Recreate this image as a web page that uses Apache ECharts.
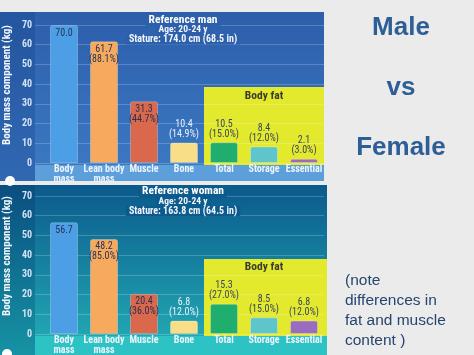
<!DOCTYPE html>
<html>
<head>
<meta charset="utf-8">
<script src="https://cdn.jsdelivr.net/npm/echarts@6/dist/echarts.min.js"></script>
<style>
html,body{margin:0;padding:0;background:#ebebeb;}
#c{width:474px;height:355px;}
</style>
</head>
<body>
<div id="c"></div>
<script>
// ---- data ----
const categories = ['Body\nmass', 'Lean body\nmass', 'Muscle', 'Bone', 'Total', 'Storage', 'Essential'];
const maleValues = [70.0, 61.7, 31.3, 10.4, 10.5, 8.4, 2.1];
const malePercents = ['', '88.1%', '44.7%', '14.9%', '15.0%', '12.0%', '3.0%'];
const femaleValues = [56.7, 48.2, 20.4, 6.8, 15.3, 8.5, 6.8];
const femalePercents = ['', '85.0%', '36.0%', '12.0%', '27.0%', '15.0%', '12.0%'];
const yMin = 0, yMax = 70, yStep = 10;
const maleTitle = ['Reference man', 'Age: 20-24 y', 'Stature: 174.0 cm (68.5 in)'];
const femaleTitle = ['Reference woman', 'Age: 20-24 y', 'Stature: 163.8 cm (64.5 in)'];

// ---- styles ----
const barColors = ['#4c9fe4', '#f7aa5e', '#d9684c', '#f9de88', '#1fae6e', '#5ec5cc', '#9a6cbf'];
const labelColors = ['#26345c', '#26345c', '#2b2f4f', '#e9f0fa', '#3a4660', '#3a4660', '#3a4660'];
const FONT = '"Roboto Condensed", "Liberation Sans", Arial, sans-serif';
const SANS = '"Liberation Sans", Arial, sans-serif';

const chart = echarts.init(document.getElementById('c'), null, {renderer: 'canvas'});

function barData(values) {
  return values.map((v, i) => ({
    value: v,
    itemStyle: {color: barColors[i]},
    label: {position: i < 3 ? 'insideTop' : 'top', color: labelColors[i]}
  }));
}
function fmt(percents) {
  return p => p.value.toFixed(1) + (percents[p.dataIndex] ? '\n(' + percents[p.dataIndex] + ')' : '');
}
function catAxis(grid) {
  return {
    type: 'category', gridIndex: grid, data: categories, z: 6,
    axisLine: {show: false}, axisTick: {show: false},
    axisLabel: {interval: 0, color: '#eef4fb', fontFamily: FONT, fontWeight: 'bold', fontSize: 10, lineHeight: 10, margin: 1}
  };
}
function valAxis(grid) {
  return {
    type: 'value', gridIndex: grid, min: yMin, max: yMax, interval: yStep, z: 6,
    axisLine: {show: false}, axisTick: {show: false}, splitLine: {show: false},
    axisLabel: {color: '#d3e2f4', fontFamily: FONT, fontWeight: 'bold', fontSize: 10, margin: 12}
  };
}
function gridAxisY(grid) {
  return {
    type: 'value', gridIndex: grid, min: yMin, max: yMax, interval: yStep, z: 3,
    axisLine: {show: false}, axisTick: {show: false}, axisLabel: {show: false},
    splitLine: {show: true, lineStyle: {color: 'rgba(255,255,255,0.2)', width: 1}}
  };
}
function grad(c1, c2) {
  return {type: 'linear', x: 0, y: 0, x2: 0, y2: 1, colorStops: [{offset: 0, color: c1}, {offset: 1, color: c2}]};
}
function titleTexts(lines, y0, bg) {
  return [
    {type: 'text', z: 4, x: 183, y: y0, style: {text: lines[0], fill: '#ffffff', font: 'bold 11.5px ' + FONT, align: 'center', verticalAlign: 'middle', backgroundColor: bg, padding: [0, 3]}},
    {type: 'text', z: 4, x: 183, y: y0 + 10, style: {text: lines[1], fill: '#f2f6fc', font: 'bold 9.5px ' + FONT, align: 'center', verticalAlign: 'middle', backgroundColor: bg, padding: [0, 3]}},
    {type: 'text', z: 4, x: 183, y: y0 + 19.5, style: {text: lines[2], fill: '#f2f6fc', font: 'bold 10px ' + FONT, align: 'center', verticalAlign: 'middle', backgroundColor: bg, padding: [0, 3]}}
  ];
}

const graphics = [
  // top panel
  {type: 'rect', z: 1, shape: {x: 0, y: 12, width: 35, height: 169}, style: {fill: grad('#24559f', '#3168b2')}},
  {type: 'rect', z: 1, shape: {x: 35, y: 12, width: 289, height: 153}, style: {fill: grad('#2c5eab', '#3b78c2')}},
  {type: 'rect', z: 1, shape: {x: 35, y: 165, width: 289, height: 16}, style: {fill: '#5c9fdb'}},
  {type: 'rect', z: 2, shape: {x: 204, y: 87, width: 120, height: 78}, style: {fill: '#e3e92c'}},
  {type: 'text', z: 4, x: 264, y: 96, style: {text: 'Body fat', fill: '#3a3d2c', font: 'bold 11.5px ' + FONT, align: 'center', verticalAlign: 'middle'}},
  {type: 'text', z: 4, x: 7, y: 85, rotation: Math.PI / 2, style: {text: 'Body mass component (kg)', fill: '#f3f7fc', font: 'bold 11px ' + FONT, align: 'center', verticalAlign: 'middle'}},
  // bottom panel
  {type: 'rect', z: 1, shape: {x: 0, y: 185, width: 35, height: 170}, style: {fill: grad('#0a4e7f', '#1693a4')}},
  {type: 'rect', z: 1, shape: {x: 35, y: 185, width: 292, height: 151}, style: {fill: grad('#0b598c', '#21a6b2')}},
  {type: 'rect', z: 1, shape: {x: 35, y: 336, width: 292, height: 19}, style: {fill: '#2dc2c3'}},
  {type: 'rect', z: 2, shape: {x: 204, y: 259, width: 123, height: 77}, style: {fill: '#e3e92c'}},
  {type: 'text', z: 4, x: 264, y: 267, style: {text: 'Body fat', fill: '#3a3d2c', font: 'bold 11.5px ' + FONT, align: 'center', verticalAlign: 'middle'}},
  {type: 'text', z: 4, x: 7, y: 256, rotation: Math.PI / 2, style: {text: 'Body mass component (kg)', fill: '#f3f7fc', font: 'bold 11px ' + FONT, align: 'center', verticalAlign: 'middle'}},
  // small panel markers
  {type: 'circle', z: 4, shape: {cx: 10, cy: 181, r: 5}, style: {fill: '#ffffff'}},
  {type: 'circle', z: 4, shape: {cx: 7, cy: 354, r: 5}, style: {fill: '#ffffff'}},
  // right side text
  {type: 'text', z: 4, x: 401, y: 27.5, style: {text: 'Male', fill: '#2d5f96', font: 'bold 26px ' + SANS, align: 'center', verticalAlign: 'middle'}},
  {type: 'text', z: 4, x: 401, y: 88, style: {text: 'vs', fill: '#2d5f96', font: 'bold 26px ' + SANS, align: 'center', verticalAlign: 'middle'}},
  {type: 'text', z: 4, x: 401, y: 147.5, style: {text: 'Female', fill: '#2d5f96', font: 'bold 26px ' + SANS, align: 'center', verticalAlign: 'middle'}},
  {type: 'text', z: 4, x: 345, y: 271, style: {text: '(note\ndifferences in\nfat and muscle\ncontent )', fill: '#25456f', font: '15.5px ' + SANS, lineHeight: 20, align: 'left', verticalAlign: 'top'}}
].concat(titleTexts(maleTitle, 20, '#2d5fab'), titleTexts(femaleTitle, 191.5, '#0c5b8d'));

const option = {
  backgroundColor: '#ebebeb',
  animation: false,
  grid: [
    {left: 44, top: 25, width: 280, height: 138},
    {left: 35, top: 25, width: 289, height: 138},
    {left: 44, top: 196, width: 280, height: 138},
    {left: 35, top: 196, width: 289, height: 138}
  ],
  xAxis: [
    catAxis(0),
    {type: 'value', gridIndex: 1, show: false},
    catAxis(2),
    {type: 'value', gridIndex: 3, show: false}
  ],
  yAxis: [valAxis(0), gridAxisY(1), valAxis(2), gridAxisY(3)],
  graphic: {elements: graphics},
  series: [
    {
      type: 'bar', xAxisIndex: 0, yAxisIndex: 0, z: 5, barWidth: 28,
      data: barData(maleValues),
      itemStyle: {borderRadius: [2, 2, 0, 0], borderColor: 'rgba(255,255,255,0.25)', borderWidth: 1},
      label: {show: true, formatter: fmt(malePercents), fontFamily: FONT, fontSize: 10, lineHeight: 10, distance: 3}
    },
    {
      type: 'bar', xAxisIndex: 2, yAxisIndex: 2, z: 5, barWidth: 28,
      data: barData(femaleValues),
      itemStyle: {borderRadius: [2, 2, 0, 0], borderColor: 'rgba(255,255,255,0.25)', borderWidth: 1},
      label: {show: true, formatter: fmt(femalePercents), fontFamily: FONT, fontSize: 10, lineHeight: 10, distance: 3}
    }
  ]
};
chart.setOption(option);
</script>
</body>
</html>
